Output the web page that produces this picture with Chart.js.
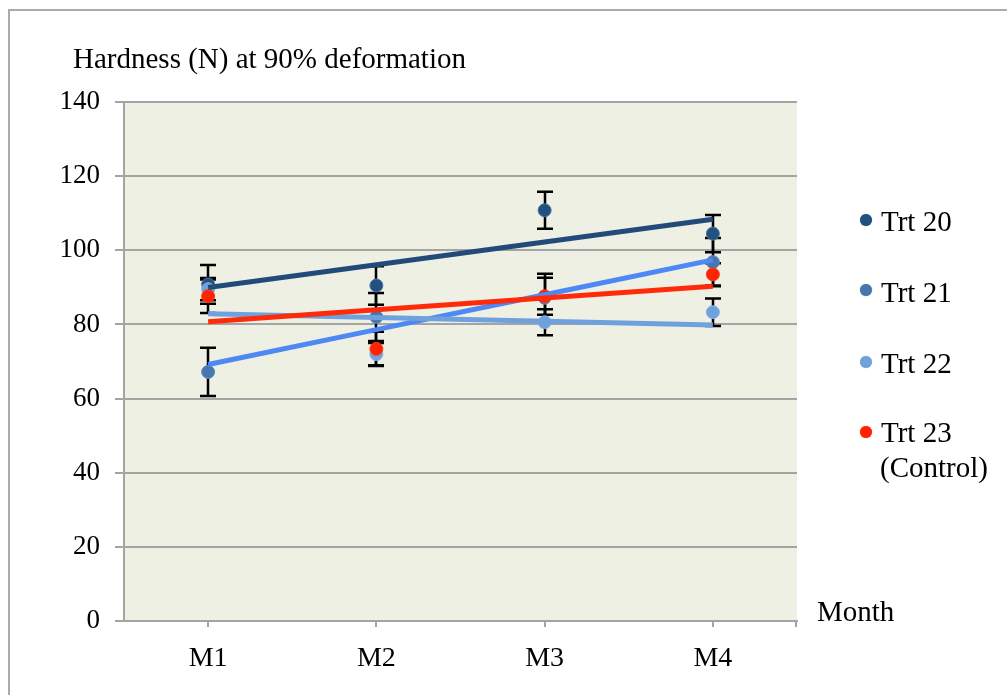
<!DOCTYPE html>
<html>
<head>
<meta charset="utf-8">
<script src="https://cdn.jsdelivr.net/npm/chart.js@4.4.1/dist/chart.umd.min.js"></script>
<style>
html,body{margin:0;padding:0;background:#fff;width:1007px;height:695px;overflow:hidden;}
#wrap{position:relative;width:1007px;height:695px;}
#frame{position:absolute;left:8px;top:9px;width:1010px;height:700px;border-left:2px solid #ababab;border-top:2px solid #ababab;box-sizing:border-box;}
#c{position:absolute;left:0;top:0;}
.t{position:absolute;font-family:"Liberation Serif","Times New Roman",serif;font-size:29px;line-height:29px;color:#000;white-space:nowrap;}
.dot{position:absolute;width:12px;height:12px;border-radius:50%;}
</style>
</head>
<body>
<div id="wrap">
  <div id="frame"></div>
  <canvas id="c" width="1007" height="695"></canvas>
  <div class="t" id="ytitle" style="left:73px;top:44px;">Hardness (N) at 90% deformation</div>
  <div class="t" id="xtitle" style="left:817px;top:597px;">Month</div>
  <div id="legend"></div>
</div>
<script>
// ---- data ----
const categories = ['M1', 'M2', 'M3', 'M4'];
const seriesNames = ['Trt 20', 'Trt 21', 'Trt 22', 'Trt 23'];
const trt20 = [90.8, 90.5, 110.8, 104.5];
const trt21 = [67.2, 82.0, 87.2, 96.8];
const trt22 = [89.5, 72.0, 80.6, 83.3];
const trt23 = [87.6, 73.4, 87.6, 93.5];
const err20 = [5.2, 5.2, 5.0, 5.0];
const err21 = [6.5, 6.5, 6.5, 6.5];
const err22 = [3.0, 3.0, 3.5, 3.7];
const err23 = [4.5, 4.6, 5.0, 3.0];
const yTicks = [0, 20, 40, 60, 80, 100, 120, 140];

// ---- styles ----
const FONT = '"Liberation Serif","Times New Roman",serif';
const markerFill = ['#22507f', '#4877ad', '#6fa2dc', '#ff2400'];
const markerEdge = ['#4a76a3', '#5f8bbd', '#86b1e2', '#ff3a1a'];
const lineColors = ['#234b79', '#4d88f4', '#6ea1dd', '#ff2a0a'];
const values = [trt20, trt21, trt22, trt23];
const errors = [err20, err21, err22, err23];

function trend(v) {
  const n = v.length;
  const xs = v.map((_, i) => i + 1);
  const mx = xs.reduce((a, b) => a + b, 0) / n;
  const my = v.reduce((a, b) => a + b, 0) / n;
  let sxy = 0, sxx = 0;
  for (let i = 0; i < n; i++) { sxy += (xs[i] - mx) * (v[i] - my); sxx += (xs[i] - mx) ** 2; }
  const b = sxy / sxx, a = my - b * mx;
  return xs.map(x => a + b * x);
}

const datasets = [];
// trendlines (on top)
const lineOrder = [4, 3, 2, 1];
values.forEach((v, i) => {
  datasets.push({
    label: seriesNames[i] + ' trend',
    data: trend(v),
    borderColor: lineColors[i],
    borderWidth: 5,
    pointRadius: 0,
    tension: 0,
    fill: false,
    order: lineOrder[i]
  });
});
// markers
const markOrder = [8, 7, 6, 5];
values.forEach((v, i) => {
  datasets.push({
    label: seriesNames[i],
    data: v,
    showLine: false,
    pointRadius: 6.5,
    pointBackgroundColor: markerFill[i],
    pointBorderColor: markerEdge[i],
    pointBorderWidth: 1,
    order: markOrder[i],
    errs: errors[i]
  });
});

const bgPlugin = {
  id: 'bg',
  beforeDraw(chart) {
    const {ctx, chartArea: a} = chart;
    ctx.save();
    ctx.fillStyle = '#eef0e4';
    ctx.fillRect(a.left, a.top, a.right - a.left, a.bottom - a.top);
    ctx.restore();
  },
  afterDraw(chart) {
    const {ctx, chartArea: a} = chart;
    ctx.save();
    ctx.strokeStyle = '#a4a4a4';
    ctx.lineWidth = 2;
    ctx.beginPath();
    ctx.moveTo(a.right - 1, a.bottom);
    ctx.lineTo(a.right - 1, a.bottom + 6);
    ctx.stroke();
    ctx.restore();
  }
};

const errPlugin = {
  id: 'errbars',
  beforeDatasetsDraw(chart) {
    const {ctx} = chart;
    const xs = chart.scales.x, ys = chart.scales.y;
    ctx.save();
    ctx.strokeStyle = '#000';
    ctx.lineWidth = 2.5;
    chart.data.datasets.forEach(ds => {
      if (!ds.errs) return;
      ds.data.forEach((v, j) => {
        const x = Math.round(xs.getPixelForValue(j));
        const yt = ys.getPixelForValue(v + ds.errs[j]);
        const yb = ys.getPixelForValue(v - ds.errs[j]);
        ctx.beginPath();
        ctx.moveTo(x, yt); ctx.lineTo(x, yb);
        ctx.moveTo(x - 8, yt); ctx.lineTo(x + 8, yt);
        ctx.moveTo(x - 8, yb); ctx.lineTo(x + 8, yb);
        ctx.stroke();
      });
    });
    ctx.restore();
  }
};

new Chart(document.getElementById('c'), {
  type: 'line',
  data: { labels: categories, datasets },
  options: {
    responsive: false,
    animation: false,
    devicePixelRatio: 1,
    layout: { padding: { left: 0, top: 102, right: 210, bottom: 0 } },
    plugins: { legend: { display: false }, tooltip: { enabled: false }, title: { display: false } },
    scales: {
      x: {
        offset: true,
        grid: { offset: false, drawOnChartArea: false, drawTicks: true, tickLength: 6, color: '#a4a4a4', lineWidth: 2 },
        border: { color: '#a4a4a4', width: 2 },
        ticks: { color: '#000', font: { family: FONT, size: 28 }, padding: 15, maxRotation: 0 },
        afterFit(s) { s.height = 74; }
      },
      y: {
        min: 0, max: 140,
        afterBuildTicks(s) { s.ticks = yTicks.map(v => ({ value: v })); },
        grid: { color: '#a4a4a4', lineWidth: 2, tickLength: 9 },
        border: { color: '#a4a4a4', width: 2 },
        ticks: { color: '#000', font: { family: FONT, size: 27 }, padding: 15 },
        afterFit(s) { s.width = 124; }
      }
    }
  },
  plugins: [bgPlugin, errPlugin]
});

// legend (HTML text)
const legendRows = [
  { name: 'Trt 20', top: 207, dot: 214 },
  { name: 'Trt 21', top: 278, dot: 284 },
  { name: 'Trt 22', top: 349, dot: 356 },
  { name: 'Trt 23', top: 418, dot: 426 }
];
const lg = document.getElementById('legend');
legendRows.forEach((r, i) => {
  const d = document.createElement('div');
  d.className = 'dot';
  d.style.left = '860px'; d.style.top = r.dot + 'px';
  d.style.background = markerFill[i];
  d.style.boxShadow = '0 0 1px ' + markerEdge[i];
  lg.appendChild(d);
  const t = document.createElement('div');
  t.className = 't';
  t.style.left = '881px'; t.style.top = r.top + 'px';
  t.textContent = r.name;
  lg.appendChild(t);
});
const ctl = document.createElement('div');
ctl.className = 't';
ctl.style.left = '880px'; ctl.style.top = '453px';
ctl.textContent = '(Control)';
lg.appendChild(ctl);
</script>
</body>
</html>
